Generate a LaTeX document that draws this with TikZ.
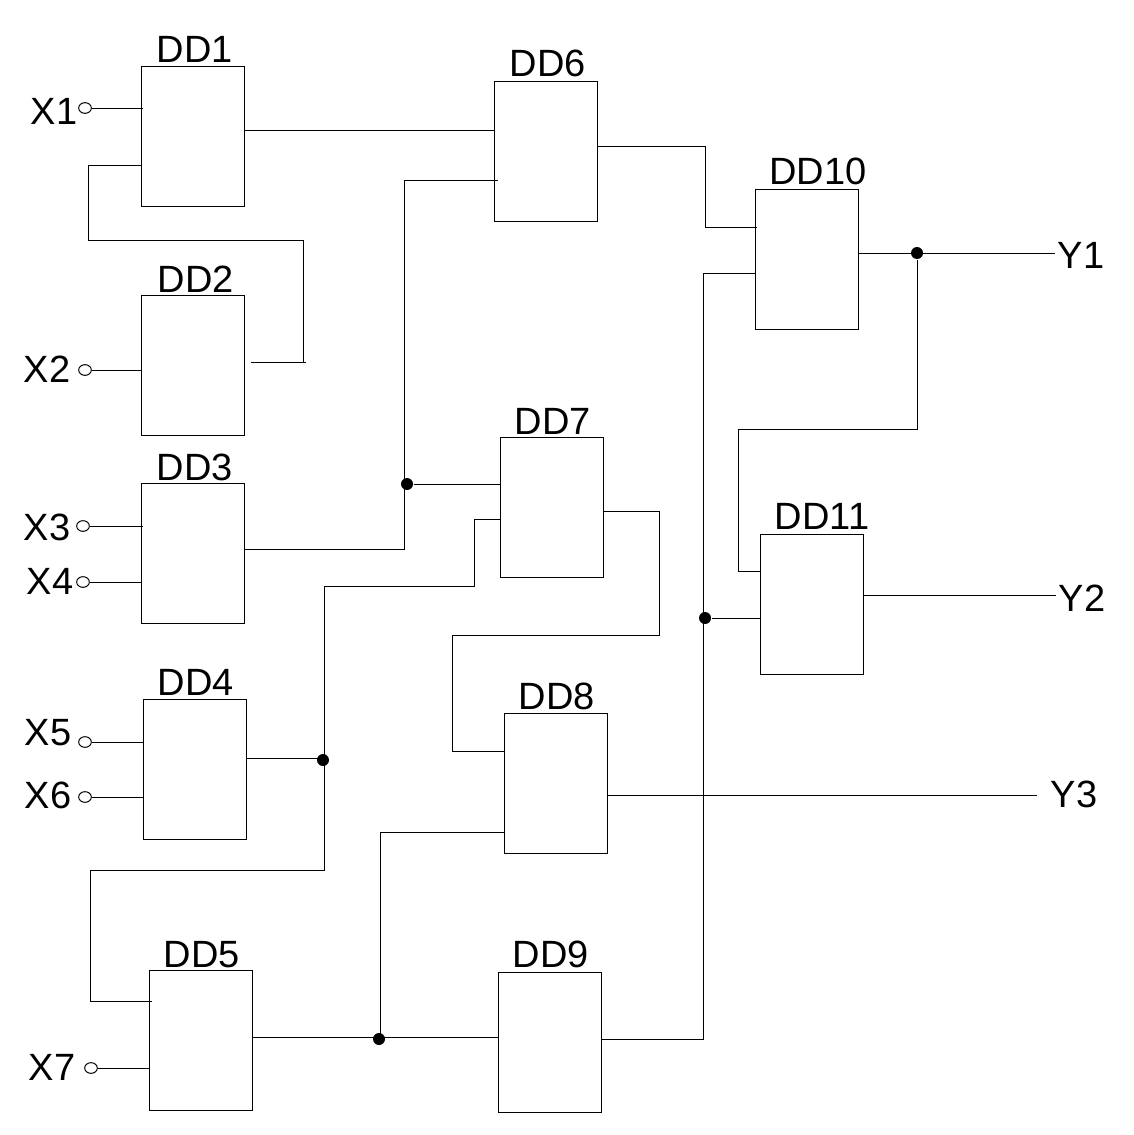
\documentclass[tikz,border=0pt]{standalone}
\usepackage{fontspec}
\setmainfont{Liberation Sans}
\usetikzlibrary{positioning,shapes.geometric}

\begin{document}
\begin{tikzpicture}[
    x=0.75pt, y=-0.75pt,
    line width=0.75pt,
    gate/.style = {draw, rectangle, minimum width=77.25pt, minimum height=105pt, inner sep=0pt},
    gatename/.style = {font=\fontsize{28.5}{28.5}\selectfont, inner sep=0pt},
    pin/.style = {draw, ellipse, minimum width=9.5pt, minimum height=8pt, inner sep=0pt},
    joint/.style = {fill, circle, minimum size=9pt, inner sep=0pt},
    sig/.style = {font=\fontsize{28.5}{28.5}\selectfont, inner sep=0pt}
  ]
    \useasboundingbox (0,0) rectangle (1134,1135);

    % gates
    \node[gate] (DD1) at (192.5,136.5) {};
    \node[gate] (DD2) at (192.5,365) {};
    \node[gate] (DD3) at (192.5,553.5) {};
    \node[gate] (DD4) at (194.5,769) {};
    \node[gate] (DD5) at (200.5,1040.5) {};
    \node[gate] (DD6) at (545.5,151) {};
    \node[gate] (DD7) at (551.5,507) {};
    \node[gate] (DD8) at (555.5,783) {};
    \node[gate] (DD9) at (549.5,1042) {};
    \node[gate] (DD10) at (806.5,259) {};
    \node[gate] (DD11) at (811.5,604) {};

    % gate names
    \node[gatename] (nameA) at (195,49) {DD1};
    \node[gatename] (nameB) at (196,279) {DD2};
    \node[gatename] (nameC) at (195,467) {DD3};
    \node[gatename] (nameD) at (196,682) {DD4};
    \node[gatename] (nameE) at (202,955) {DD5};
    \node[gatename] (nameF) at (548,63) {DD6};
    \node[gatename] (nameG) at (553,421) {DD7};
    \node[gatename] (nameH) at (557,696) {DD8};
    \node[gatename] (nameI) at (551,954) {DD9};
    \node[gatename] (nameJ) at (818,171) {DD10};
    \node[gatename] (nameK) at (822,516) {DD11};

    % inputs
    \node[sig] (X1) at (54,111) {X1};
    \node[sig] (X2) at (47,369) {X2};
    \node[sig] (X3) at (47,527) {X3};
    \node[sig] (X4) at (50,581) {X4};
    \node[sig] (X5) at (48,733) {X5};
    \node[sig] (X6) at (48,795) {X6};
    \node[sig] (X7) at (52,1067) {X7};
    \node[pin] (pinA) at (85,108) {};
    \node[pin] (pinB) at (85,370) {};
    \node[pin] (pinC) at (83,526) {};
    \node[pin] (pinD) at (83,582) {};
    \node[pin] (pinE) at (85,742) {};
    \node[pin] (pinF) at (85,797) {};
    \node[pin] (pinG) at (91,1068) {};

    % outputs
    \node[sig] (Y1) at (1081,255) {Y1};
    \node[sig] (Y2) at (1082,598) {Y2};
    \node[sig] (Y3) at (1074,794) {Y3};
    \coordinate (endA) at (1055,253);
    \coordinate (endB) at (1056,595);
    \coordinate (endC) at (1037,795);

    % junctions
    \node[joint] (jA) at (917,253) {};
    \node[joint] (jB) at (407,484) {};
    \node[joint] (jC) at (705,618) {};
    \node[joint] (jD) at (323,760) {};
    \node[joint] (jE) at (379,1039) {};

    % input wires
    \draw (pinA.east) -- (143,108);
    \draw (pinB.east) -- (pinB -| DD2.west);
    \draw (pinC.east) -- (143,526);
    \draw (pinD.east) -- (pinD -| DD3.west);
    \draw (pinE.east) -- (pinE -| DD4.west);
    \draw (pinF.east) -- (pinF -| DD4.west);
    \draw (pinG.east) -- (pinG -| DD5.west);

    % DD2 goes round to DD1
    \coordinate (inA) at (141,165);
    \coordinate (outB) at (251,362);
    \draw (inA) -- (88,165) -- (88,240) -- (303,240) -- (303,362) -- (outB);
    \draw (303,362) -- (306,362);

    % DD1, DD3 to DD6 and DD7
    \coordinate (outA) at (244,130);
    \draw (outA) -- (outA -| DD6.west);
    \coordinate (outC) at (244,549);
    \coordinate (inF) at (498,180);
    \draw (outC) -- (404.5,549) -- (404.5,180) -- (inF);
    \draw (jB) -- (jB -| DD7.west);

    % DD4 to DD7 and DD5
    \coordinate (outD) at (246,758);
    \coordinate (inG) at (500,519);
    \coordinate (inE) at (152,1001);
    \draw (outD) -- (324.5,758);
    \draw (inG) -- (474,519) -- (474,586) -- (324.5,586) -- (324.5,870) -- (90,870) -- (90,1001) -- (inE);

    % DD7 to DD8
    \coordinate (outG) at (603,511);
    \coordinate (inH) at (504,751);
    \draw (outG) -- (659,511) -- (659,635) -- (452,635) -- (452,751) -- (inH);

    % DD5 to DD8 and DD9
    \coordinate (outE) at (252,1037);
    \coordinate (inI) at (498,1037);
    \coordinate (inJ) at (504,832);
    \draw (outE) -- (inI);
    \draw (inJ) -- (380.5,832) -- (380.5,1037);

    % DD6, DD9 to DD10 and DD11
    \coordinate (outF) at (597,146);
    \coordinate (inK) at (757,227);
    \draw (outF) -- (705,146) -- (705,227) -- (inK);
    \coordinate (outI) at (601,1039);
    \coordinate (inL) at (755,273);
    \draw (outI) -- (703,1039) -- (703,273) -- (inL);
    \draw (jC) -- (jC -| DD11.west);

    % outputs and feedback
    \coordinate (outJ) at (858,253);
    \coordinate (inM) at (760,571);
    \draw (outJ) -- (endA);
    \draw (jA) -- (917,429) -- (738,429) -- (738,571) -- (inM);
    \coordinate (outK) at (863,595);
    \draw (outK) -- (endB);
    \coordinate (outH) at (607,795);
    \draw (outH) -- (endC);
  \end{tikzpicture}
\end{document}
